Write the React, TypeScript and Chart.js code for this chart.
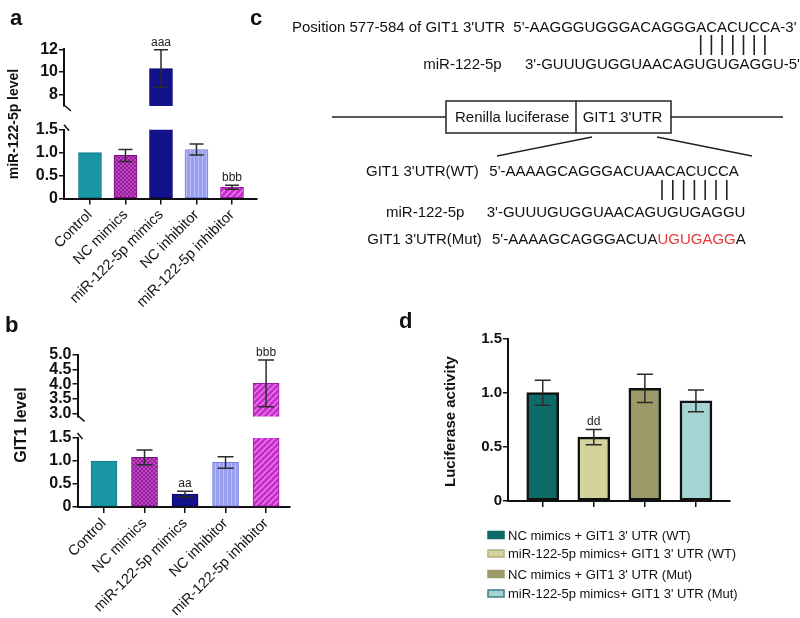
import React, { useEffect, useRef } from 'react';
import { Chart, registerables } from 'chart.js';

Chart.register(...registerables);

const FONT = '"Liberation Sans", Arial, Helvetica, sans-serif';

// ---------------- data ----------------
const groupLabels = ['Control', 'NC mimics', 'miR-122-5p mimics', 'NC inhibitor', 'miR-122-5p inhibitor'];

// panel a: miR-122-5p level
const mirLevel = [1.0, 0.94, 10.3, 1.07, 0.245];
const mirLevelErr = [0, 0.13, 1.65, 0.12, 0.045];
const mirMarks = ['', '', 'aaa', '', 'bbb'];
const mirUpperTicks = [8, 10, 12];
const mirLowerTicks = [0, 0.5, 1.0, 1.5];

// panel b: GIT1 level
const git1Level = [1.0, 1.08, 0.28, 0.97, 4.03];
const git1LevelErr = [0, 0.16, 0.065, 0.125, 0.8];
const git1Marks = ['', '', 'aa', '', 'bbb'];
const git1UpperTicks = [3.0, 3.5, 4.0, 4.5, 5.0];
const git1LowerTicks = [0, 0.5, 1.0, 1.5];

// panel d: luciferase activity
const lucLabels = [
  "NC mimics + GIT1 3' UTR (WT)",
  "miR-122-5p mimics+ GIT1 3' UTR (WT)",
  "NC mimics + GIT1 3' UTR (Mut)",
  "miR-122-5p mimics+ GIT1 3' UTR (Mut)",
];
const lucActivity = [1.0, 0.59, 1.04, 0.925];
const lucErr = [0.115, 0.07, 0.13, 0.1];
const lucMarks = ['', 'dd', '', ''];
const lucTicks = [0, 0.5, 1.0, 1.5];

// ---------------- styles ----------------
const groupFillSpec: [string, string, string][] = [
  ['solid', '#1995a3', ''],
  ['check', '#9a17a2', '#b94dbd'],
  ['solid', '#12128a', ''],
  ['vert', '#99a0f2', '#b9bdfa'],
  ['diag', '#c82bcc', '#e680e8'],
];
const groupBorder = ['#107c89', '#780d80', '#07076a', '#7a81dd', '#a01aa5'];
const lucFill = ['#0e6a66', '#d4d39c', '#9c9a69', '#a4d4d4'];
const lucLegendStroke = ['#0e6a66', '#b3b183', '#9c9a69', '#3e7e80'];
const legendRows = [535, 553.5, 574, 593.5];

const fmt1 = (v: number) => (v === 0 ? '0' : v.toFixed(1));
const fmtInt = (v: number) => String(v);

type PanelSpec = {
  values: number[];
  errs: number[];
  marks: string[];
  labels: string[] | null;
  showX: boolean;
  L: number; T: number; R: number; B: number; canvasBottom: number;
  xMin: number; xMax: number; yMin: number; yMax: number;
  yTicks: number[];
  fmt: (v: number) => string;
  tickSize: number;
  barThickness: number;
  cap: number;
  brk: 'top' | 'bottom' | null;
  fill: 'group' | 'luc';
  borderWidth: number;
};

const YW = 50;

const panels: PanelSpec[] = [
  {
    values: mirLevel, errs: mirLevelErr, marks: mirMarks, labels: null, showX: false,
    L: 64, T: 49.3, R: 257, B: 116, canvasBottom: 126,
    xMin: -0.732, xMax: 4.704, yMin: 7, yMax: 12, yTicks: mirUpperTicks, fmt: fmtInt, tickSize: 16,
    barThickness: 23, cap: 14, brk: 'bottom', fill: 'group', borderWidth: 1,
  },
  {
    values: mirLevel, errs: mirLevelErr, marks: mirMarks, labels: groupLabels, showX: true,
    L: 64, T: 129.8, R: 257, B: 198.5, canvasBottom: 315,
    xMin: -0.732, xMax: 4.704, yMin: 0, yMax: 1.5, yTicks: mirLowerTicks, fmt: fmt1, tickSize: 16,
    barThickness: 23, cap: 14, brk: 'top', fill: 'group', borderWidth: 1,
  },
  {
    values: git1Level, errs: git1LevelErr, marks: git1Marks, labels: null, showX: false,
    L: 77.5, T: 355, R: 290, B: 426.7, canvasBottom: 437,
    xMin: -0.654, xMax: 4.59, yMin: 2.9, yMax: 5, yTicks: git1UpperTicks, fmt: fmt1, tickSize: 16,
    barThickness: 26, cap: 16, brk: 'bottom', fill: 'group', borderWidth: 1,
  },
  {
    values: git1Level, errs: git1LevelErr, marks: git1Marks, labels: groupLabels, showX: true,
    L: 77.5, T: 438, R: 290, B: 507, canvasBottom: 618,
    xMin: -0.654, xMax: 4.59, yMin: 0, yMax: 1.5, yTicks: git1LowerTicks, fmt: fmt1, tickSize: 16,
    barThickness: 26, cap: 16, brk: 'top', fill: 'group', borderWidth: 1,
  },
  {
    values: lucActivity, errs: lucErr, marks: lucMarks, labels: null, showX: true,
    L: 508, T: 338.5, R: 730, B: 501, canvasBottom: 514,
    xMin: -0.68, xMax: 3.667, yMin: 0, yMax: 1.5, yTicks: lucTicks, fmt: fmt1, tickSize: 15,
    barThickness: 32, cap: 16, brk: null, fill: 'luc', borderWidth: 2.5,
  },
];

function frameOf(p: PanelSpec) {
  const left = Math.floor(p.L - YW);
  const top = Math.floor(p.T - 10);
  const right = Math.ceil(p.R + 8);
  return {
    left, top, width: right - left, height: p.canvasBottom - top,
    yWidth: p.L - left,
    padTop: p.T - top,
    padRight: right - p.R,
    padBottom: p.showX ? 0 : p.canvasBottom - p.B,
    xHeight: p.canvasBottom - p.B,
  };
}

function makeFill(kind: string, bg: string, fg: string): any {
  if (kind === 'solid') return bg;
  const s = kind === 'diag' ? 6 : 4;
  const c = document.createElement('canvas');
  c.width = s; c.height = s;
  const g = c.getContext('2d')!;
  g.fillStyle = bg; g.fillRect(0, 0, s, s);
  g.fillStyle = fg; g.strokeStyle = fg;
  if (kind === 'check') {
    g.fillRect(0, 0, 2, 2); g.fillRect(2, 2, 2, 2);
  } else if (kind === 'vert') {
    g.fillRect(0, 0, 1, s);
  } else if (kind === 'diag') {
    g.lineWidth = 1.5;
    g.beginPath();
    g.moveTo(0, s); g.lineTo(s, 0);
    g.moveTo(-1, 1); g.lineTo(1, -1);
    g.moveTo(s - 1, s + 1); g.lineTo(s + 1, s - 1);
    g.stroke();
  }
  return g.createPattern(c, 'repeat');
}

function errPlugin(p: PanelSpec) {
  return {
    id: 'errbars',
    afterDatasetsDraw(chart: any) {
      const { ctx, chartArea: ca } = chart;
      const ys = chart.scales.y;
      const meta = chart.getDatasetMeta(0);
      ctx.save();
      ctx.beginPath();
      ctx.rect(ca.left - 20, ca.top - 1, ca.right - ca.left + 40, ca.bottom - ca.top + 1);
      ctx.clip();
      ctx.strokeStyle = '#2b2b2b';
      ctx.lineWidth = 1.5;
      meta.data.forEach((bar: any, i: number) => {
        const e = p.errs[i];
        if (!e) return;
        const x = bar.x;
        const hi = ys.getPixelForValue(p.values[i] + e);
        const lo = ys.getPixelForValue(p.values[i] - e);
        ctx.beginPath();
        ctx.moveTo(x, lo); ctx.lineTo(x, hi);
        ctx.moveTo(x - p.cap / 2, hi); ctx.lineTo(x + p.cap / 2, hi);
        ctx.moveTo(x - p.cap / 2, lo); ctx.lineTo(x + p.cap / 2, lo);
        ctx.stroke();
      });
      ctx.restore();
      ctx.save();
      ctx.fillStyle = '#222';
      ctx.font = `12px ${FONT}`;
      ctx.textAlign = 'center';
      ctx.textBaseline = 'middle';
      meta.data.forEach((bar: any, i: number) => {
        const m = p.marks[i];
        if (!m) return;
        const top = p.values[i] + p.errs[i];
        if (top < ys.min || top > ys.max) return;
        ctx.fillText(m, bar.x, ys.getPixelForValue(top) - 7.5);
      });
      ctx.restore();
    },
    afterDraw(chart: any) {
      if (!p.brk) return;
      const { ctx, chartArea: ca } = chart;
      ctx.save();
      ctx.strokeStyle = '#111';
      ctx.lineWidth = 1.5;
      ctx.beginPath();
      if (p.brk === 'bottom') {
        ctx.moveTo(ca.left, ca.bottom - 1);
        ctx.lineTo(ca.left + 7, ca.bottom + 5);
      } else {
        ctx.moveTo(ca.left, ca.top - 5);
        ctx.lineTo(ca.left + 5, ca.top + 1);
      }
      ctx.stroke();
      ctx.restore();
    },
  };
}

function buildConfig(p: PanelSpec): any {
  const fr = frameOf(p);
  const fills = p.fill === 'group' ? groupFillSpec.map(([k, b, f]) => makeFill(k, b, f)) : lucFill;
  const borders = p.fill === 'group' ? groupBorder : lucFill.map(() => '#111');
  return {
    type: 'bar',
    data: {
      datasets: [{
        data: p.values.map((v, i) => ({ x: i, y: v })),
        backgroundColor: fills,
        borderColor: borders,
        borderWidth: p.borderWidth,
        borderSkipped: false,
        barThickness: p.barThickness,
        clip: 0,
      }],
    },
    options: {
      animation: false,
      responsive: false,
      devicePixelRatio: 1,
      events: [],
      layout: { padding: { left: 0, top: fr.padTop, right: fr.padRight, bottom: fr.padBottom } },
      plugins: { legend: { display: false }, tooltip: { enabled: false } },
      scales: {
        x: {
          type: 'linear',
          display: p.showX,
          min: p.xMin, max: p.xMax,
          bounds: 'data',
          offset: false,
          afterBuildTicks: (s: any) => { s.ticks = p.values.map((_, i) => ({ value: i })); },
          afterFit: (s: any) => { s.height = fr.xHeight; },
          grid: { display: true, offset: false, drawOnChartArea: false, drawTicks: true, tickLength: 6, color: '#111', lineWidth: 1.5 },
          border: { display: true, color: '#111', width: 2 },
          ticks: {
            display: !!p.labels,
            autoSkip: false,
            minRotation: 45, maxRotation: 45,
            padding: 2,
            color: '#111',
            font: { family: FONT, size: 14.5 },
            callback: (v: number) => (p.labels ? p.labels[v] : ''),
          },
        },
        y: {
          type: 'linear',
          min: p.yMin, max: p.yMax,
          bounds: 'data',
          afterBuildTicks: (s: any) => { s.ticks = p.yTicks.map((v) => ({ value: v })); },
          afterFit: (s: any) => { s.width = fr.yWidth; },
          grid: { display: true, drawOnChartArea: false, drawTicks: true, tickLength: 5, color: '#111', lineWidth: 1.5 },
          border: { display: true, color: '#111', width: 2 },
          ticks: {
            autoSkip: false,
            padding: 1,
            color: '#111',
            font: { family: FONT, size: p.tickSize, weight: 'bold', lineHeight: 1 },
            callback: (v: number) => p.fmt(v),
          },
        },
      },
    },
    plugins: [errPlugin(p)],
  };
}

const seqLine = (x0: number, step: number, y1: number, y2: number) =>
  Array.from({ length: 7 }, (_, k) => (
    <line key={k} x1={x0 + k * step} y1={y1} x2={x0 + k * step} y2={y2} stroke="#222" strokeWidth={1.6} />
  ));

export default function App() {
  const canvasRefs = useRef<(HTMLCanvasElement | null)[]>([]);

  useEffect(() => {
    const charts = panels.map((p, i) => new Chart(canvasRefs.current[i] as HTMLCanvasElement, buildConfig(p)));
    return () => charts.forEach((c) => c.destroy());
  }, []);

  return (
    <div style={{ position: 'absolute', left: 0, top: 0, width: 800, height: 618, background: '#fff', overflow: 'hidden', fontFamily: FONT }}>
      {panels.map((p, i) => {
        const fr = frameOf(p);
        return (
          <canvas
            key={i}
            ref={(el) => { canvasRefs.current[i] = el; }}
            width={fr.width}
            height={fr.height}
            style={{ position: 'absolute', left: fr.left, top: fr.top, width: fr.width, height: fr.height }}
          />
        );
      })}
      <svg width={800} height={618} style={{ position: 'absolute', left: 0, top: 0, pointerEvents: 'none' }} fontFamily={FONT}>
        {/* panel letters */}
        <g fontSize={22} fontWeight="bold" fill="#111">
          <text x={10} y={25}>a</text>
          <text x={250} y={25}>c</text>
          <text x={5} y={332}>b</text>
          <text x={399} y={328}>d</text>
        </g>
        {/* axis titles */}
        <text transform="translate(13,124) rotate(-90)" textAnchor="middle" dominantBaseline="central" fontSize={14} fontWeight="bold" fill="#111">miR-122-5p level</text>
        <text transform="translate(20,425) rotate(-90)" textAnchor="middle" dominantBaseline="central" fontSize={16} fontWeight="bold" fill="#111">GIT1 level</text>
        <text transform="translate(449,421.5) rotate(-90)" textAnchor="middle" dominantBaseline="central" fontSize={15} fontWeight="bold" fill="#111">Luciferase activity</text>

        {/* panel c */}
        <g fontSize={15} fill="#111">
          <text x={292} y={32}>Position 577-584 of GIT1 3'UTR</text>
          <text x={513.3} y={32}>5'-AAGGGUGGGACAGGGACACUCCA-3'</text>
          {seqLine(700.7, 10.7, 35, 55)}
          <text x={423.3} y={68.5}>miR-122-5p</text>
          <text x={525} y={68.5}>3'-GUUUGUGGUAACAGUGUGAGGU-5'</text>

          <line x1={332} y1={117} x2={446} y2={117} stroke="#222" strokeWidth={1.5} />
          <rect x={446} y={101} width={225} height={32} fill="none" stroke="#222" strokeWidth={1.5} />
          <line x1={576} y1={101} x2={576} y2={133} stroke="#222" strokeWidth={1.5} />
          <line x1={671} y1={117} x2={783} y2={117} stroke="#222" strokeWidth={1.5} />
          <text x={455} y={122}>Renilla luciferase</text>
          <text x={582.7} y={122}>GIT1 3'UTR</text>
          <line x1={592} y1={137} x2={497} y2={156} stroke="#222" strokeWidth={1.5} />
          <line x1={657} y1={137} x2={752} y2={156} stroke="#222" strokeWidth={1.5} />

          <text x={366} y={175.7}>GIT1 3'UTR(WT)</text>
          <text x={489.3} y={175.7}>5'-AAAAGCAGGGACUAACACUCCA</text>
          {seqLine(662, 10.8, 180, 200)}
          <text x={386} y={216.7}>miR-122-5p</text>
          <text x={486.7} y={216.7}>3'-GUUUGUGGUAACAGUGUGAGGU</text>
          <text x={367.3} y={244}>GIT1 3'UTR(Mut)</text>
          <text x={492} y={244}>5'-AAAAGCAGGGACUA<tspan fill="#e23a3c">UGUGAGG</tspan>A</text>
        </g>

        {/* legend d */}
        <g fontSize={13} fill="#111">
          {lucLabels.map((lab, i) => (
            <g key={i}>
              <rect x={488} y={legendRows[i] - 3.5} width={16} height={7} fill={lucFill[i]} stroke={lucLegendStroke[i]} strokeWidth={1.5} />
              <text x={508} y={legendRows[i] + 4.5}>{lab}</text>
            </g>
          ))}
        </g>
      </svg>
    </div>
  );
}
